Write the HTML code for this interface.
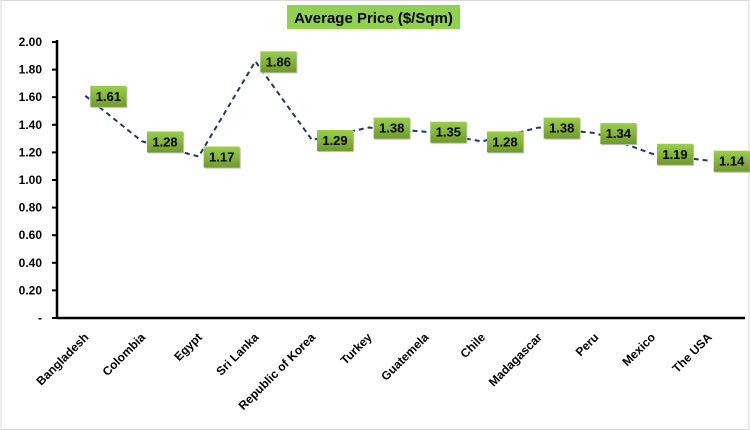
<!DOCTYPE html>
<html><head><meta charset="utf-8"><style>
body{margin:0;background:#fff}
svg{display:block;font-family:"Liberation Sans",sans-serif;font-weight:bold}
</style></head><body>
<svg width="750" height="430">
<rect x="1" y="0.5" width="748" height="429" fill="#fff" stroke="#d9d9d9"/>
<rect x="287" y="5" width="173" height="24" fill="#92d050"/>
<text x="373.5" y="23" text-anchor="middle" font-size="15" fill="#000">Average Price ($/Sqm)</text>
<defs><linearGradient id="lg" x1="0" y1="0" x2="0" y2="1"><stop offset="0" stop-color="#9bcf4a"/><stop offset="1" stop-color="#6f9a2a"/></linearGradient></defs>
<g id="yaxis"></g><g id="xaxis"></g><g id="series"></g>
</svg>
<script>
const categories=["Bangladesh","Colombia","Egypt","Sri Lanka","Republic of Korea","Turkey","Guatemela","Chile","Madagascar","Peru","Mexico","The USA"];
const values=[1.61,1.28,1.17,1.86,1.29,1.38,1.35,1.28,1.38,1.34,1.19,1.14];
const yTicks=[0,0.2,0.4,0.6,0.8,1.0,1.2,1.4,1.6,1.8,2.0];
const yTickLabels=["-","0.20","0.40","0.60","0.80","1.00","1.20","1.40","1.60","1.80","2.00"];
const NS="http://www.w3.org/2000/svg";
const plotLeft=57,plotRight=737,plotTop=42,plotBottom=318,yMax=2.0;
const step=(plotRight-plotLeft)/categories.length;
function xPos(i){return plotLeft+step*(i+0.5);}
function yPos(v){return plotBottom-(v/yMax)*(plotBottom-plotTop);}
function mk(tag,attrs,parent){const e=document.createElementNS(NS,tag);for(const k in attrs)e.setAttribute(k,attrs[k]);parent.appendChild(e);return e;}
const ya=document.getElementById('yaxis'),xa=document.getElementById('xaxis'),sr=document.getElementById('series');
yTicks.forEach((t,i)=>{
  const y=yPos(t);
  const tk=mk('line',{x1:plotLeft-5,x2:plotLeft,y1:y,y2:y,stroke:'#000','stroke-width':2},ya);
  
  
  const tx=mk('text',{x:42,y:y+4,'text-anchor':'end','font-size':12},ya);
  tx.textContent=yTickLabels[i];
  
  
});
const yl=mk('line',{x1:plotLeft,x2:plotLeft,y1:plotTop-2,y2:plotBottom+1,stroke:'#000','stroke-width':2.5},ya);


const xl=mk('line',{x1:plotLeft,x2:plotRight+8,y1:plotBottom,y2:plotBottom,stroke:'#000','stroke-width':2.5},xa);


categories.forEach((c,i)=>{
  const x=xPos(i)+4,y=plotBottom+20;
  const t=mk('text',{x:x,y:y,'text-anchor':'end','font-size':12,transform:`rotate(-45 ${x} ${y})`},xa);
  t.textContent=c;
  
  
});
const pts=values.map((v,i)=>xPos(i)+','+yPos(v)).join(' ');
const pl=mk('polyline',{points:pts,fill:'none',stroke:'#1f3864','stroke-width':2,'stroke-dasharray':'5,4'},sr);


values.forEach((v,i)=>{
  const x=xPos(i)+5,y=yPos(v);
  const g=mk('g',{},sr);
  
  
  mk('rect',{x:x+1,y:y-9,width:36,height:21,fill:'#bbb'},g);
  mk('rect',{x:x,y:y-10,width:36,height:21,fill:'url(#lg)'},g);
  const t=mk('text',{x:x+18,y:y+5,'text-anchor':'middle','font-size':13},g);
  t.textContent=v.toFixed(2);
});
</script>
</body></html>
